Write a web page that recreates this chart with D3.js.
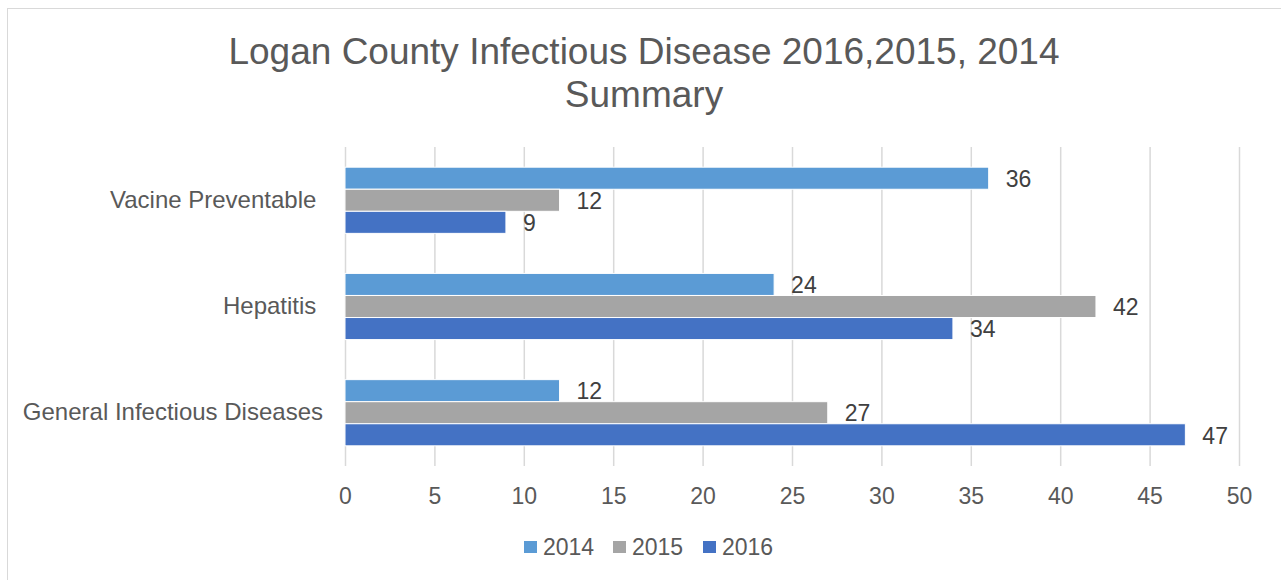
<!DOCTYPE html>
<html>
<head>
<meta charset="utf-8">
<script src="https://cdn.jsdelivr.net/npm/d3@7"></script>
<style>
    body { margin: 0; background: #fff; }
    svg { display: block; font-family: "Liberation Sans", Arial, sans-serif; }
</style>
</head>
<body>
<svg id="chart"></svg>
<script>
// data
const categories = ["Vacine Preventable ", "Hepatitis ", "General Infectious Diseases"];
const seriesNames = ["2014", "2015", "2016"];
const values2014 = [36, 24, 12];
const values2015 = [12, 42, 27];
const values2016 = [9, 34, 47];
const xTicks = [0, 5, 10, 15, 20, 25, 30, 35, 40, 45, 50];
const colors = ["#5b9bd5", "#a5a5a5", "#4472c4"];

const W = 1281, H = 580;
const svg = d3.select("#chart").attr("width", W).attr("height", H);

// chart border (only top and left show in the crop)
svg.append("rect")
    .attr("x", 7.5).attr("y", 8.5)
    .attr("width", 1300).attr("height", 600)
    .attr("fill", "none")
    .attr("stroke", "#d9d9d9");

// title
const title = svg.append("text")
    .attr("text-anchor", "middle")
    .attr("fill", "#595959")
    .style("font-size", "37px");
title.append("tspan").attr("x", 644).attr("y", 64).text("Logan County Infectious Disease 2016,2015, 2014");
title.append("tspan").attr("x", 644).attr("y", 107).text("Summary");

const plot = { left: 345, right: 1239, top: 147, bottom: 466 };

const x = d3.scaleLinear().domain([0, 50]).range([plot.left, plot.right]);
const y = d3.scaleBand().domain(categories).range([plot.top, plot.bottom]).paddingInner(0.377).paddingOuter(0.19);
const ySub = d3.scaleBand().domain(seriesNames).range([0, y.bandwidth()]);

// gridlines
svg.append("g")
    .selectAll("line")
    .data(xTicks)
    .join("line")
    .attr("x1", d => x(d) + 0.5).attr("x2", d => x(d) + 0.5)
    .attr("y1", plot.top).attr("y2", plot.bottom)
    .attr("stroke", "#d9d9d9")
    .attr("stroke-width", 1.5);

// x axis labels
const xAxis = d3.axisBottom(x).tickValues(xTicks).tickSize(0).tickPadding(22);
const gx = svg.append("g").attr("transform", `translate(0,${plot.bottom})`).call(xAxis);
gx.select(".domain").remove();
gx.selectAll("text").attr("fill", "#595959").style("font-size", "23px").style("font-family", "Liberation Sans, Arial, sans-serif");

// category labels (trailing spaces kept as in the source)
const yAxis = d3.axisLeft(y).tickSize(0).tickPadding(22);
const gy = svg.append("g").attr("transform", `translate(${plot.left},0)`).call(yAxis);
gy.select(".domain").remove();
gy.selectAll("text")
    .attr("fill", "#595959")
    .style("font-size", "24px")
    .style("white-space", "pre")
    .style("font-family", "Liberation Sans, Arial, sans-serif");

// bars
const allValues = [values2014, values2015, values2016];
const rows = [];
categories.forEach((c, i) => {
    seriesNames.forEach((s, j) => {
        rows.push({ cat: c, series: s, value: allValues[j][i], color: colors[j] });
    });
});

svg.append("g")
    .selectAll("rect")
    .data(rows)
    .join("rect")
    .attr("x", x(0))
    .attr("y", d => y(d.cat) + ySub(d.series))
    .attr("width", d => x(d.value) - x(0))
    .attr("height", ySub.bandwidth())
    .attr("fill", d => d.color)
    .attr("stroke", "#fff")
    .attr("stroke-width", 1);

// data labels
svg.append("g")
    .selectAll("text")
    .data(rows)
    .join("text")
    .attr("x", d => x(d.value) + 17)
    .attr("y", d => y(d.cat) + ySub(d.series) + ySub.bandwidth() / 2)
    .attr("dy", "0.38em")
    .attr("fill", "#404040")
    .style("font-size", "23px")
    .text(d => d.value);

// legend
const legendX = [524, 613, 703];
const legend = svg.append("g")
    .selectAll("g")
    .data(seriesNames)
    .join("g")
    .attr("transform", (d, i) => `translate(${legendX[i]},541)`);
legend.append("rect").attr("width", 13).attr("height", 12).attr("fill", (d, i) => colors[i]);
legend.append("text")
    .attr("x", 19).attr("y", 14)
    .attr("fill", "#595959")
    .style("font-size", "23px")
    .text(d => d);
</script>
</body>
</html>
